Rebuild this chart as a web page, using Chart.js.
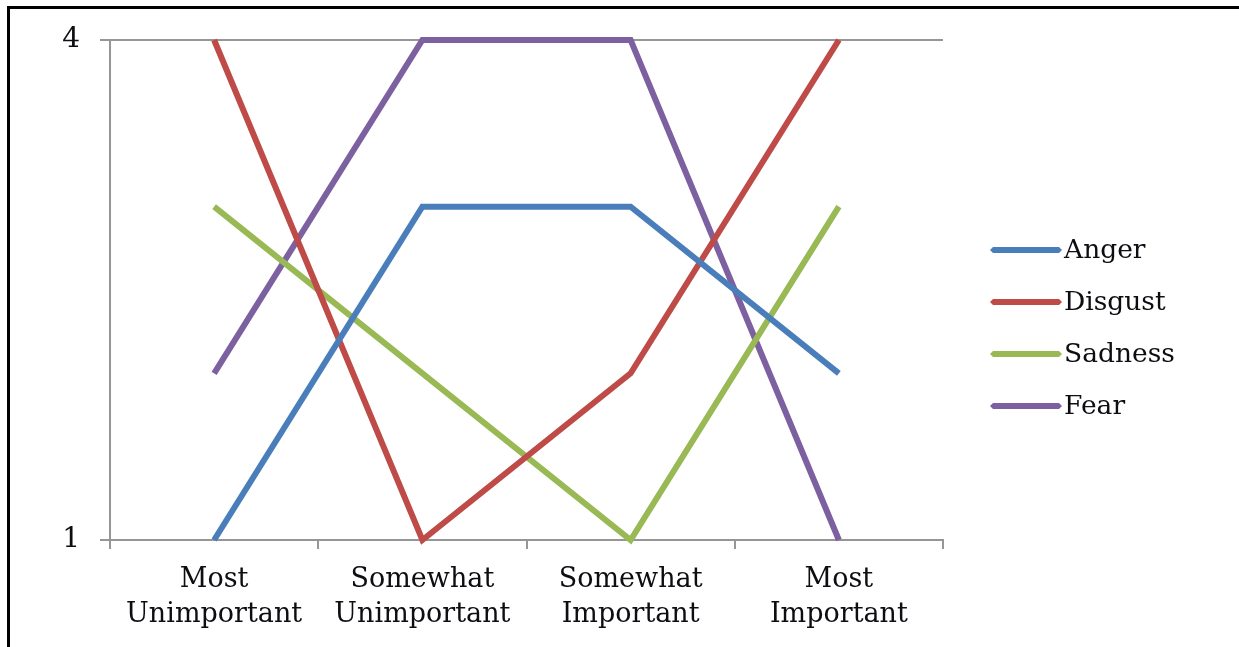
<!DOCTYPE html>
<html>
<head>
<meta charset="utf-8">
<script src="https://cdn.jsdelivr.net/npm/chart.js@4/dist/chart.umd.min.js"></script>
<style>
  html, body { margin: 0; padding: 0; background: #fff; }
  #wrap { position: relative; width: 1239px; height: 647px; overflow: hidden; }
  #frame { position: absolute; left: 7px; top: 6px; width: 1240px; height: 650px;
           border-left: 3px solid #000; border-top: 3px solid #000; box-sizing: border-box; pointer-events: none; }
  canvas { position: absolute; left: 0; top: 0; }
</style>
</head>
<body>
<div id="wrap">
  <canvas id="c" width="1239" height="647"></canvas>
  <div id="frame"></div>
</div>
<script>
// Ranking categories along the horizontal axis
const categories = [
  ['Most', 'Unimportant'],
  ['Somewhat', 'Unimportant'],
  ['Somewhat', 'Important'],
  ['Most', 'Important']
];
// Emotion rankings per category
const anger   = [1, 3, 3, 2];
const disgust = [4, 1, 2, 4];
const sadness = [3, 2, 1, 3];
const fear    = [2, 4, 4, 1];
// Only the extremes of the scale are labelled
const yTickValues = [1, 4];

const FONT = "'DejaVu Serif', serif";
const TEXT = '#0d0d12';
const AXIS = '#969696';

// Legend drawn to the right of the plot: a thick line sample followed by the label
const sideLegend = {
  id: 'sideLegend',
  afterDraw(chart) {
    const ctx = chart.ctx;
    const sets = chart.data.datasets;
    const x0 = 990, x1 = 1062, top = 250, step = 52;
    ctx.save();
    ctx.font = '26.5px ' + FONT;
    ctx.textBaseline = 'middle';
    ctx.textAlign = 'left';
    sets.forEach((ds, i) => {
      const y = top + i * step;
      const h = 3;
      ctx.fillStyle = ds.borderColor;
      ctx.beginPath();
      ctx.moveTo(x0, y);
      ctx.lineTo(x0 + h, y - h);
      ctx.lineTo(x1 - h, y - h);
      ctx.lineTo(x1, y);
      ctx.lineTo(x1 - h, y + h);
      ctx.lineTo(x0 + h, y + h);
      ctx.closePath();
      ctx.fill();
      ctx.fillStyle = TEXT;
      ctx.fillText(ds.label, x1 + 2, y + 1);
    });
    ctx.restore();
  }
};

const mk = (label, data, color) => ({
  label, data, borderColor: color, backgroundColor: color,
  borderWidth: 6, pointRadius: 0, pointHoverRadius: 0, tension: 0,
  borderCapStyle: 'butt', borderJoinStyle: 'miter', clip: false
});

new Chart(document.getElementById('c'), {
  type: 'line',
  data: {
    labels: categories,
    datasets: [
      mk('Anger', anger, '#4a7ebb'),
      mk('Disgust', disgust, '#be4b48'),
      mk('Sadness', sadness, '#98b954'),
      mk('Fear', fear, '#7d60a0')
    ]
  },
  options: {
    responsive: false,
    animation: false,
    events: [],
    layout: { padding: { left: 0, top: 40, right: 296, bottom: 0 } },
    plugins: { legend: { display: false }, tooltip: { enabled: false } },
    scales: {
      x: {
        offset: true,
        grid: { offset: true, drawOnChartArea: false, drawTicks: true, tickLength: 9, color: AXIS, lineWidth: 2 },
        border: { color: AXIS, width: 2 },
        ticks: { color: TEXT, font: { family: FONT, size: 27, lineHeight: 1.3 }, padding: 13, maxRotation: 0, autoSkip: false },
        afterFit(s) { s.height = 107; }
      },
      y: {
        min: 1, max: 4,
        afterBuildTicks(s) { s.ticks = yTickValues.map(v => ({ value: v })); },
        grid: { color: AXIS, lineWidth: 2, tickLength: 10 },
        border: { color: AXIS, width: 2 },
        ticks: { color: TEXT, font: { family: FONT, size: 28 }, padding: 20 },
        afterFit(s) { s.width = 110; }
      }
    }
  },
  plugins: [sideLegend]
});
</script>
</body>
</html>
